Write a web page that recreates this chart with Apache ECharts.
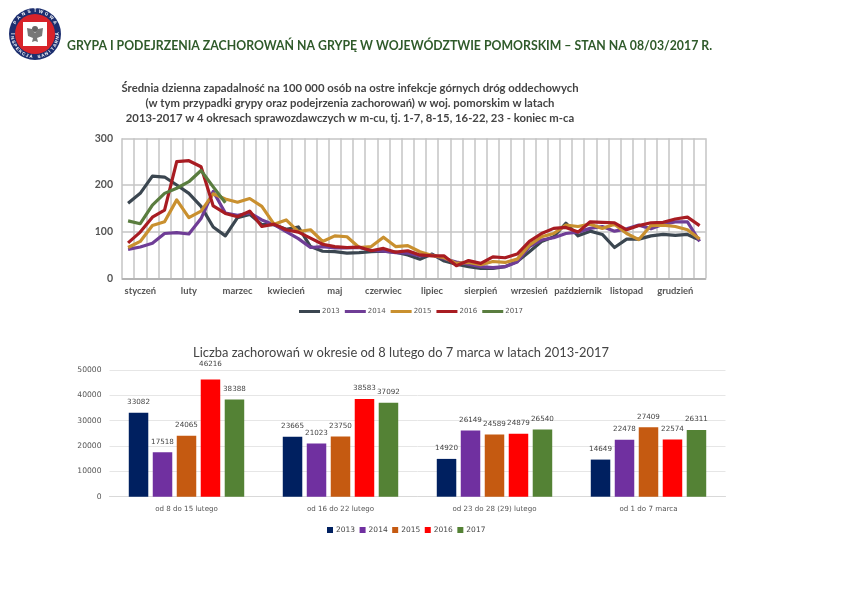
<!DOCTYPE html>
<html><head><meta charset="utf-8">
<style>html,body{margin:0;padding:0;background:#fff}#c{width:852px;height:602px}</style>
<script src="https://cdn.jsdelivr.net/npm/echarts@6/dist/echarts.min.js"></script>
</head><body><div id="c"></div>
<script>
const months = ['styczeń','luty','marzec','kwiecień','maj','czerwiec','lipiec','sierpień','wrzesień','październik','listopad','grudzień'];
const years = ['2013','2014','2015','2016','2017'];
const line2013 = [161,182,219,217,200,182,154,110,91,130,137,115,115,105,110,68,58,57,54,55,57,58,56,50,41,52,37,30,25,21,21,25,36,57,79,89,118,91,101,94,66,84,84,91,94,92,94,82];
const line2014 = [62,67,75,96,98,95,128,186,140,135,140,125,115,100,85,66,68,65,65,66,60,58,55,54,48,50,42,35,30,25,23,25,35,68,82,87,96,99,107,111,101,106,114,106,116,121,121,79];
const line2015 = [66,79,113,121,168,130,144,181,170,163,171,154,116,125,100,104,79,91,89,66,68,88,68,70,57,49,44,32,34,29,36,34,41,71,89,96,114,111,116,107,116,96,83,113,114,111,104,84];
const line2016 = [76,99,131,146,250,252,239,155,139,132,144,111,116,104,99,86,73,68,66,67,59,64,56,59,50,48,48,27,38,32,46,44,52,79,96,107,109,99,121,120,119,104,113,119,120,127,131,113];
const line2017 = [123,117,157,182,193,207,231,196,162];
const barCats = ['od 8 do 15 lutego','od 16 do 22 lutego','od 23 do 28 (29) lutego','od 1 do 7 marca'];
const bar2013 = [33082,23665,14920,14649];
const bar2014 = [17518,21023,26149,22478];
const bar2015 = [24065,23750,24589,27409];
const bar2016 = [46216,38583,24879,22574];
const bar2017 = [38388,37092,26540,26311];
const headerText = 'GRYPA I PODEJRZENIA ZACHOROWAŃ NA GRYPĘ W WOJEWÓDZTWIE POMORSKIM – STAN NA 08/03/2017 R.';
const lineTitle = 'Średnia dzienna zapadalność na 100 000 osób na ostre infekcje górnych dróg oddechowych\n(w tym przypadki grypy oraz podejrzenia zachorowań) w woj. pomorskim w latach\n2013-2017 w 4 okresach sprawozdawczych w m-cu, tj. 1-7, 8-15, 16-22, 23 - koniec m-ca';
const barTitle = 'Liczba zachorowań w okresie od 8 lutego do 7 marca w latach 2013-2017';

const lineColors = ['#3b4650','#6f3d96','#c9902f','#a81c22','#5a7d3f'];
const barColors = ['#002060','#7030a0','#c55a11','#ff0000','#548235'];
const lineData = [line2013,line2014,line2015,line2016,line2017];
const barData = [bar2013,bar2014,bar2015,bar2016,bar2017];
const weeks = [];
months.forEach(m => { weeks.push('', m, '', ''); });

function ringText(str, cx, cy, r, midDeg, stepDeg, bottom){
  const out = []; const n = str.length;
  [...str].forEach((ch,i)=>{
    const off = (i-(n-1)/2)*stepDeg;
    const a = (midDeg + (bottom?-off:off))*Math.PI/180;
    out.push({type:'text',rotation:bottom?(Math.PI/2-a):-(a+Math.PI/2),
      x:cx+r*Math.cos(a),y:cy+r*Math.sin(a),
      style:{text:ch,fill:'#fff',font:'bold 4.5px "Liberation Sans"',textAlign:'center',textVerticalAlign:'middle'}});
  });
  return out;
}
const logo = [
  {type:'circle',shape:{cx:35,cy:34,r:26},style:{fill:'#1d2f6f'}},
  {type:'circle',shape:{cx:35,cy:34,r:20},style:{fill:'#d8232a'}},
  {type:'rect',shape:{x:23,y:22,width:24,height:24},style:{fill:'#fff'}},
  {type:'circle',shape:{cx:35,cy:29,r:3},style:{fill:'#666'}},
  {type:'polygon',shape:{points:[[27,28],[32,29],[35,33],[38,29],[43,28],[42,36],[37,38],[38,42],[35,41],[32,42],[33,38],[28,36]]},style:{fill:'#777'}},
  ...ringText('PAŃSTWOWA',35,34,23,-90,15,false),
  ...ringText('INSPEKCJA SANITARNA',35,34,23,90,10,true)
];

const series = [];
years.forEach((y,i)=>series.push({name:y,type:'line',xAxisIndex:0,yAxisIndex:0,data:lineData[i],
  symbol:'none',smooth:false,lineStyle:{width:3.2,color:lineColors[i],join:'round'},itemStyle:{color:lineColors[i]},animation:false}));
years.forEach((y,i)=>series.push({name:y,type:'bar',xAxisIndex:1,yAxisIndex:1,
  data:barData[i].map(v=>v===46216?{value:v,label:{offset:[0,-5]}}:v),
  barWidth:19.5,barGap:'23%',itemStyle:{color:barColors[i]},animation:false,
  label:{show:true,position:'top',distance:7,color:'#444',fontFamily:'DejaVu Sans',fontSize:7.2}}));

const chart = echarts.init(document.getElementById('c'),null,{renderer:'canvas'});
chart.setOption({
  backgroundColor:'#fff',animation:false,
  title:[
    {text:headerText,left:67,top:40,padding:0,textStyle:{fontFamily:'Lato',fontWeight:'bold',fontSize:12.3,color:'#2f5a2a'}},
    {text:lineTitle,left:350,top:81,padding:0,textAlign:'center',textStyle:{fontFamily:'Lato',fontWeight:'bold',fontSize:11.3,lineHeight:15,color:'#444'}},
    {text:barTitle,left:401,top:346,padding:0,textAlign:'center',textStyle:{fontFamily:'Lato',fontWeight:'normal',fontSize:12.9,color:'#444'}}
  ],
  legend:[
    {left:299,top:308,padding:0,itemWidth:21,itemHeight:3,itemGap:5,icon:'rect',
      data:years.map((y,i)=>({name:y,icon:'rect',itemStyle:{color:lineColors[i]}})),
      textStyle:{fontFamily:'DejaVu Sans',fontSize:7,color:'#555',padding:[0,0,0,-3]},selectedMode:false},
    {left:327,top:526,padding:0,itemWidth:6,itemHeight:6,itemGap:4.5,icon:'rect',
      data:years.map((y,i)=>({name:y,icon:'rect',itemStyle:{color:barColors[i]}})),
      textStyle:{fontFamily:'DejaVu Sans',fontSize:7.5,color:'#444',padding:[0,0,0,-2]},selectedMode:false}
  ],
  grid:[
    {left:122,top:138.3,width:583.7,height:140,containLabel:false},
    {left:109.5,top:370,width:616,height:126.7,containLabel:false}
  ],
  xAxis:[
    {gridIndex:0,type:'category',data:weeks,boundaryGap:true,
      axisTick:{show:false},axisLine:{lineStyle:{color:'#aaa',width:1.5}},
      splitLine:{show:true,interval:0,lineStyle:{color:'#c4c4c4',width:1.5}},
      axisLabel:{interval:0,margin:8,color:'#555',fontFamily:'Lato',fontWeight:'bold',fontSize:9.4}},
    {gridIndex:1,type:'category',data:barCats,
      axisTick:{show:false},axisLine:{lineStyle:{color:'#d9d9d9'}},
      axisLabel:{interval:0,margin:9,color:'#555',fontFamily:'DejaVu Sans',fontSize:7.1}}
  ],
  yAxis:[
    {gridIndex:0,type:'value',min:0,max:300,interval:100,
      axisLine:{show:false},axisTick:{show:false},
      splitLine:{lineStyle:{color:'#c4c4c4',width:1.5}},
      axisLabel:{margin:9,color:'#555',fontFamily:'Lato',fontWeight:'bold',fontSize:10.5}},
    {gridIndex:1,type:'value',min:0,max:50000,interval:10000,
      axisLine:{show:false},axisTick:{show:false},
      splitLine:{lineStyle:{color:'#e6e6e6'}},
      axisLabel:{margin:8,color:'#555',fontFamily:'DejaVu Sans',fontSize:7.6,formatter:v=>String(v)}}
  ],
  series,
  graphic:logo
});
</script></body></html>
